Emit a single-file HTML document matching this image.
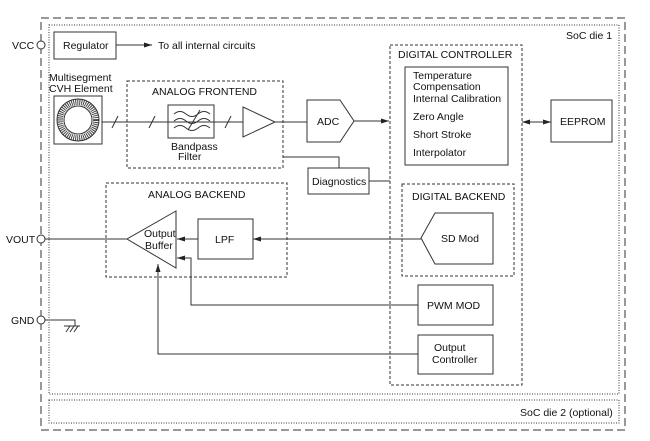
<!DOCTYPE html>
<html><head><style>body{margin:0;background:#fff}svg{display:block}text{font-family:"Liberation Sans",sans-serif;font-size:10.5px;fill:#111}</style></head><body>
<svg width="650" height="441" viewBox="0 0 650 441" xmlns="http://www.w3.org/2000/svg">
<defs><marker id="a" markerWidth="8" markerHeight="6" refX="8" refY="3" orient="auto"><path d="M0,0.5 L8,3 L0,5.5Z" fill="#222"/></marker></defs>
<g fill="none" stroke="#333" stroke-width="1">
<rect x="41" y="18" width="584" height="412" stroke-dasharray="8,4"/>
<rect x="49" y="25" width="570" height="369" stroke-dasharray="1,1.5"/>
<rect x="49" y="400" width="570" height="23" stroke-dasharray="1,1.5"/>
<rect x="127" y="81" width="156" height="87" stroke-dasharray="3,2"/>
<rect x="390" y="45" width="132" height="340" stroke-dasharray="3,2"/>
<rect x="402" y="184" width="112" height="92" stroke-dasharray="3,2"/>
<rect x="106" y="183" width="181" height="94" stroke-dasharray="3,2"/>
<rect x="54" y="32" width="62" height="27"/>
<rect x="54" y="96" width="48" height="48"/>
<rect x="168" y="105" width="46" height="33"/>
<rect x="405" y="67" width="103" height="98"/>
<rect x="551" y="100" width="61" height="42"/>
<rect x="308" y="168" width="61" height="26"/>
<rect x="198" y="219" width="55" height="40"/>
<rect x="418" y="285" width="75" height="40"/>
<rect x="418" y="335" width="75" height="39"/>
<path d="M243,107 L275,122 L243,137Z"/>
<path d="M307,100 L340,100 L354,121 L340,142 L307,142Z"/>
<path d="M435,213 L493,213 L493,264 L435,264 L421,238Z"/>
<path d="M176,211 L127,239 L176,268Z"/>
<circle cx="41" cy="45" r="4" fill="#fff"/>
<circle cx="41" cy="239" r="4" fill="#fff"/>
<circle cx="41" cy="320" r="4" fill="#fff"/>
<circle cx="78" cy="120" r="18" stroke="#444" stroke-width="6" stroke-dasharray="1,1"/>
<circle cx="78" cy="120" r="21"/><circle cx="78" cy="120" r="14"/>
<path d="M102,122 H243 M275,122 H307 M116,45 H152" />
<path d="M112,128 L118,116 M149,128 L155,116 M225,128 L231,116"/>
<path d="M174,114 q6,-5 12,0 t12,0 t12,0 M174,121 q6,-5 12,0 t12,0 t12,0 M174,128 q6,-5 12,0 t12,0 t12,0 M188,130 L200,110"/>
<path d="M354,121 H389" marker-end="url(#a)"/>
<path d="M283,157 H339 V168 M369,181 H390"/>
<path d="M529,122 H551" marker-end="url(#a)"/><path d="M545,122 H522" marker-end="url(#a)"/>
<path d="M421,239 H253" marker-end="url(#a)"/>
<path d="M198,239 H177" marker-end="url(#a)"/>
<path d="M45,239 H127"/>
<path d="M418,305 H191 V258 H177" marker-end="url(#a)"/>
<path d="M418,354 H158 V264" marker-end="url(#a)"/>
<path d="M45,320 H75 V326 M64,326 H80 M66,332 L70,326 M70,332 L74,326 M74,332 L78,326"/>
</g>
<path d="M146,45 L152,45" stroke="#222" marker-end="url(#a)"/>
<text x="12" y="49">VCC</text><text x="6" y="243">VOUT</text><text x="11" y="324">GND</text>
<text x="63" y="49">Regulator</text>
<text x="158" y="49">To all internal circuits</text>
<text x="49" y="81">Multisegment</text><text x="49" y="92">CVH Element</text>
<text x="152" y="95">ANALOG FRONTEND</text>
<text x="171" y="150">Bandpass</text><text x="178" y="160">Filter</text>
<text x="317" y="125">ADC</text>
<text x="398" y="58">DIGITAL CONTROLLER</text>
<text x="413" y="79">Temperature</text><text x="413" y="90">Compensation</text>
<text x="413" y="102">Internal Calibration</text><text x="413" y="120">Zero Angle</text>
<text x="413" y="138">Short Stroke</text><text x="413" y="156">Interpolator</text>
<text x="560" y="125">EEPROM</text>
<text x="312" y="185">Diagnostics</text>
<text x="412" y="200">DIGITAL BACKEND</text>
<text x="441" y="242">SD Mod</text>
<text x="148" y="198">ANALOG BACKEND</text>
<text x="144" y="237">Output</text><text x="145" y="249">Buffer</text>
<text x="215" y="243">LPF</text>
<text x="427" y="309">PWM MOD</text>
<text x="434" y="351">Output</text><text x="432" y="363">Controller</text>
<text x="566" y="39">SoC die 1</text>
<text x="520" y="416">SoC die 2 (optional)</text>
</svg></body></html>
